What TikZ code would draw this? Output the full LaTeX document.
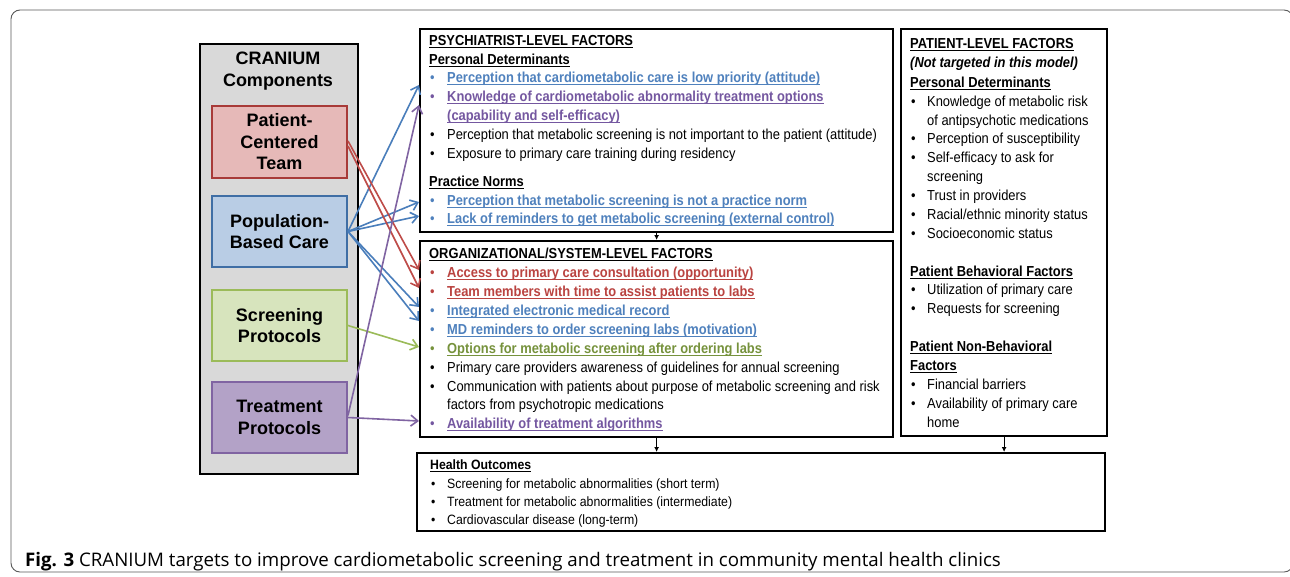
\documentclass[tikz,border=0pt]{standalone}
\usepackage{fontspec}
\setmainfont{Liberation Sans}
\newfontfamily\boxf[FakeStretch=0.89]{Liberation Sans}
\newfontfamily\hof[FakeStretch=0.91]{Liberation Sans}
\newfontfamily\capf{Open Sans}
\usetikzlibrary{arrows.meta,calc}
\newsavebox\ulbox
\newlength\ullen
\newcommand\ulx[1]{\sbox\ulbox{#1}\setlength\ullen{\wd\ulbox}\rlap{\usebox\ulbox}\rule[-2.4pt]{\ullen}{0.9pt}}
\definecolor{tblue}{HTML}{4F81BD}
\definecolor{tred}{HTML}{BA4340}
\definecolor{tgreen}{HTML}{76923C}
\definecolor{tpurple}{HTML}{7457A0}
\definecolor{ablue}{HTML}{4A7EBB}
\definecolor{ared}{HTML}{BE4B48}
\definecolor{agreen}{HTML}{9BBB59}
\definecolor{apurple}{HTML}{8064A2}
\definecolor{fred}{HTML}{E6B9B8}
\definecolor{bred}{HTML}{A83A38}
\definecolor{fblue}{HTML}{B9CDE5}
\definecolor{bblue}{HTML}{3F6EA5}
\definecolor{fgreen}{HTML}{D7E4BD}
\definecolor{bgreen}{HTML}{9BBB59}
\definecolor{fpurple}{HTML}{B3A2C7}
\definecolor{bpurple}{HTML}{8064A2}
\definecolor{fgray}{HTML}{D9D9D9}
% bullet item: name, bullet x, text x, baseline y, colour, text
\newcommand\bitem[6]{\node[txt,text=#5] (#1b) at (#2,#4) {\textbullet};\node[txt,text=#5] (#1) at (#3,#4) {#6};}
\begin{document}
\begin{tikzpicture}[x=1pt,y=-1pt,
  txt/.style={anchor=base west, inner sep=0pt, font=\boxf\fontsize{14.5}{17}\selectfont},
  hotxt/.style={anchor=base west, inner sep=0pt, font=\hof\fontsize{13.5}{16}\selectfont},
  fbox/.style={draw=black, line width=2.2pt, anchor=north west, inner sep=0pt},
  comp/.style={line width=2pt, anchor=north west, inner sep=0pt, minimum width=135pt, minimum height=71pt},
  clab/.style={align=center, font=\fontsize{18}{21.5}\selectfont\bfseries, inner sep=0pt},
  arr/.style={line width=1.6pt, -{Straight Barb[length=7pt,width=11pt,line width=1.6pt]}},
  varr/.style={line width=1pt, -{Latex[length=5pt,width=5pt]}}]
\useasboundingbox (0,0) rectangle (1290,576);
\clip (0,0) rectangle (1290,576);
\fill[white] (0,0) rectangle (1290,576);
% outer frame
\draw[black!65, line width=0.9pt, rounded corners=9pt] (11,10) rectangle (1293,572);

% CRANIUM components
\node[fbox, fill=fgray, minimum width=158pt, minimum height=430pt] (gray) at (199,43) {};
\node[clab] (cranl) at (278,71) {CRANIUM\\Components};
\node[comp, draw=bred, fill=fred, minimum height=72pt] (pct) at (211,105) {};
\node[comp, draw=bblue, fill=fblue] (pbc) at (211,195) {};
\node[comp, draw=bgreen, fill=fgreen] (sp) at (211,289) {};
\node[comp, draw=bpurple, fill=fpurple] (tp) at (211,381) {};
\node[clab] (pctl) at (pct.center) {Patient-\\Centered\\Team};
\node[clab] (pbcl) at (pbc.center) {Population-\\Based Care};
\node[clab] (spl) at (sp.center) {Screening\\Protocols};
\node[clab] (tpl) at (tp.center) {Treatment\\Protocols};

% factor boxes
\node[fbox, minimum width=473pt, minimum height=203pt] (psych) at (419,28) {};
\node[fbox, minimum width=473pt, minimum height=196pt] (org) at (419,240) {};
\node[fbox, minimum width=206pt, minimum height=407pt] (pat) at (900,28) {};
\node[fbox, minimum width=688pt, minimum height=78pt] (ho) at (416,452) {};

% psychiatrist-level
\node[txt] (p0) at (429,45) {\bfseries\ulx{PSYCHIATRIST-LEVEL FACTORS}};
\node[txt] (p1) at (429,64) {\bfseries\ulx{Personal Determinants}};
\bitem{p2}{430}{447}{82}{tblue}{\bfseries\ulx{Perception that cardiometabolic care is low priority (attitude)}}
\bitem{p3}{430}{447}{101}{tpurple}{\bfseries\ulx{Knowledge of cardiometabolic abnormality treatment options}}
\node[txt, text=tpurple] (p3c) at (447,120) {\bfseries\ulx{(capability and self-efficacy)}};
\bitem{p4}{430}{447}{139}{black}{Perception that metabolic screening is not important to the patient (attitude)}
\bitem{p5}{430}{447}{158}{black}{Exposure to primary care training during residency}
\node[txt] (p6) at (429,186) {\bfseries\ulx{Practice Norms}};
\bitem{p7}{430}{447}{205}{tblue}{\bfseries\ulx{Perception that metabolic screening is not a practice norm}}
\bitem{p8}{430}{447}{223}{tblue}{\bfseries\ulx{Lack of reminders to get metabolic screening (external control)}}

% organizational
\node[txt] (o0) at (429,258) {\bfseries\ulx{ORGANIZATIONAL/SYSTEM-LEVEL FACTORS}};
\bitem{o1}{430}{447}{277}{tred}{\bfseries\ulx{Access to primary care consultation (opportunity)}}
\bitem{o2}{430}{447}{296}{tred}{\bfseries\ulx{Team members with time to assist patients to labs}}
\bitem{o3}{430}{447}{315}{tblue}{\bfseries\ulx{Integrated electronic medical record}}
\bitem{o4}{430}{447}{334}{tblue}{\bfseries\ulx{MD reminders to order screening labs (motivation)}}
\bitem{o5}{430}{447}{353}{tgreen}{\bfseries\ulx{Options for metabolic screening after ordering labs}}
\bitem{o6}{430}{447}{372}{black}{Primary care providers awareness of guidelines for annual screening}
\bitem{o7}{430}{447}{391}{black}{Communication with patients about purpose of metabolic screening and risk}
\node[txt] (o7c) at (447,409) {factors from psychotropic medications};
\bitem{o8}{430}{447}{428}{tpurple}{\bfseries\ulx{Availability of treatment algorithms}}

% patient-level
\node[txt] (t0) at (910,48) {\bfseries\ulx{PATIENT-LEVEL FACTORS}};
\node[txt] (t1) at (910,67) {\bfseries\itshape (Not targeted in this model)};
\node[txt] (t2) at (910,87) {\bfseries\ulx{Personal Determinants}};
\bitem{t3}{911}{927}{106}{black}{Knowledge of metabolic risk}
\node[txt] (t3c) at (927,125) {of antipsychotic medications};
\bitem{t4}{911}{927}{143}{black}{Perception of susceptibility}
\bitem{t5}{911}{927}{162}{black}{Self-efficacy to ask for}
\node[txt] (t5c) at (927,181) {screening};
\bitem{t6}{911}{927}{200}{black}{Trust in providers}
\bitem{t7}{911}{927}{219}{black}{Racial/ethnic minority status}
\bitem{t8}{911}{927}{238}{black}{Socioeconomic status}
\node[txt] (t9) at (910,276) {\bfseries\ulx{Patient Behavioral Factors}};
\bitem{t10}{911}{927}{294}{black}{Utilization of primary care}
\bitem{t11}{911}{927}{313}{black}{Requests for screening}
\node[txt] (t12) at (910,351) {\bfseries\ulx{Patient Non-Behavioral}};
\node[txt] (t13) at (910,370) {\bfseries\ulx{Factors}};
\bitem{t14}{911}{927}{389}{black}{Financial barriers}
\bitem{t15}{911}{927}{408}{black}{Availability of primary care}
\node[txt] (t15c) at (927,427) {home};

% health outcomes
\node[hotxt] (h0) at (430,469) {\bfseries\ulx{Health Outcomes}};
\node[hotxt] (h1b) at (431,488) {\textbullet};
\node[hotxt] (h1) at (447,488) {Screening for metabolic abnormalities (short term)};
\node[hotxt] (h2b) at (431,506) {\textbullet};
\node[hotxt] (h2) at (447,506) {Treatment for metabolic abnormalities (intermediate)};
\node[hotxt] (h3b) at (431,524) {\textbullet};
\node[hotxt] (h3) at (447,524) {Cardiovascular disease (long-term)};

% vertical arrows
\draw[varr] (psych.south) -- (org.north);
\draw[varr] (org.south) -- (org.south |- ho.north);
\draw[varr] (pat.south) -- (pat.south |- ho.north);

% component connectors
\draw[arr, ablue] (pbc.east) -- ($(psych.west |- p2.base)+(0,3)$);
\draw[arr, ablue] (pbc.east) -- ($(psych.west |- p7.base)+(0,-3)$);
\draw[arr, ablue] (pbc.east) -- ($(psych.west |- p8.base)+(0,-7)$);
\draw[arr, ablue] (pbc.east) -- ($(org.west |- o3.base)+(0,-8)$);
\draw[arr, ablue] (pbc.east) -- ($(org.west |- o4.base)+(0,-13)$);
\draw[arr, ared] ($(pct.east)+(0,-1)$) -- ($(org.west |- o1.base)+(0,-7)$);
\draw[arr, ared] ($(pct.east)+(0,4)$) -- ($(org.west |- o2.base)+(0,-8)$);
\draw[arr, agreen] (sp.east) -- ($(org.west |- o5.base)+(0,-6)$);
\draw[arr, apurple] ($(tp.east)+(0,-2)$) -- ($(psych.west |- p3.base)+(0,4)$);
\draw[arr, apurple] (tp.east) -- ($(org.west |- o8.base)+(0,-7)$);

% caption
\node[anchor=base west, inner sep=0pt, font=\capf\fontsize{18.7}{20}\selectfont] (cap) at (25,566) {\textbf{Fig. 3} CRANIUM targets to improve cardiometabolic screening and treatment in community mental health clinics};
\end{tikzpicture}
\end{document}
